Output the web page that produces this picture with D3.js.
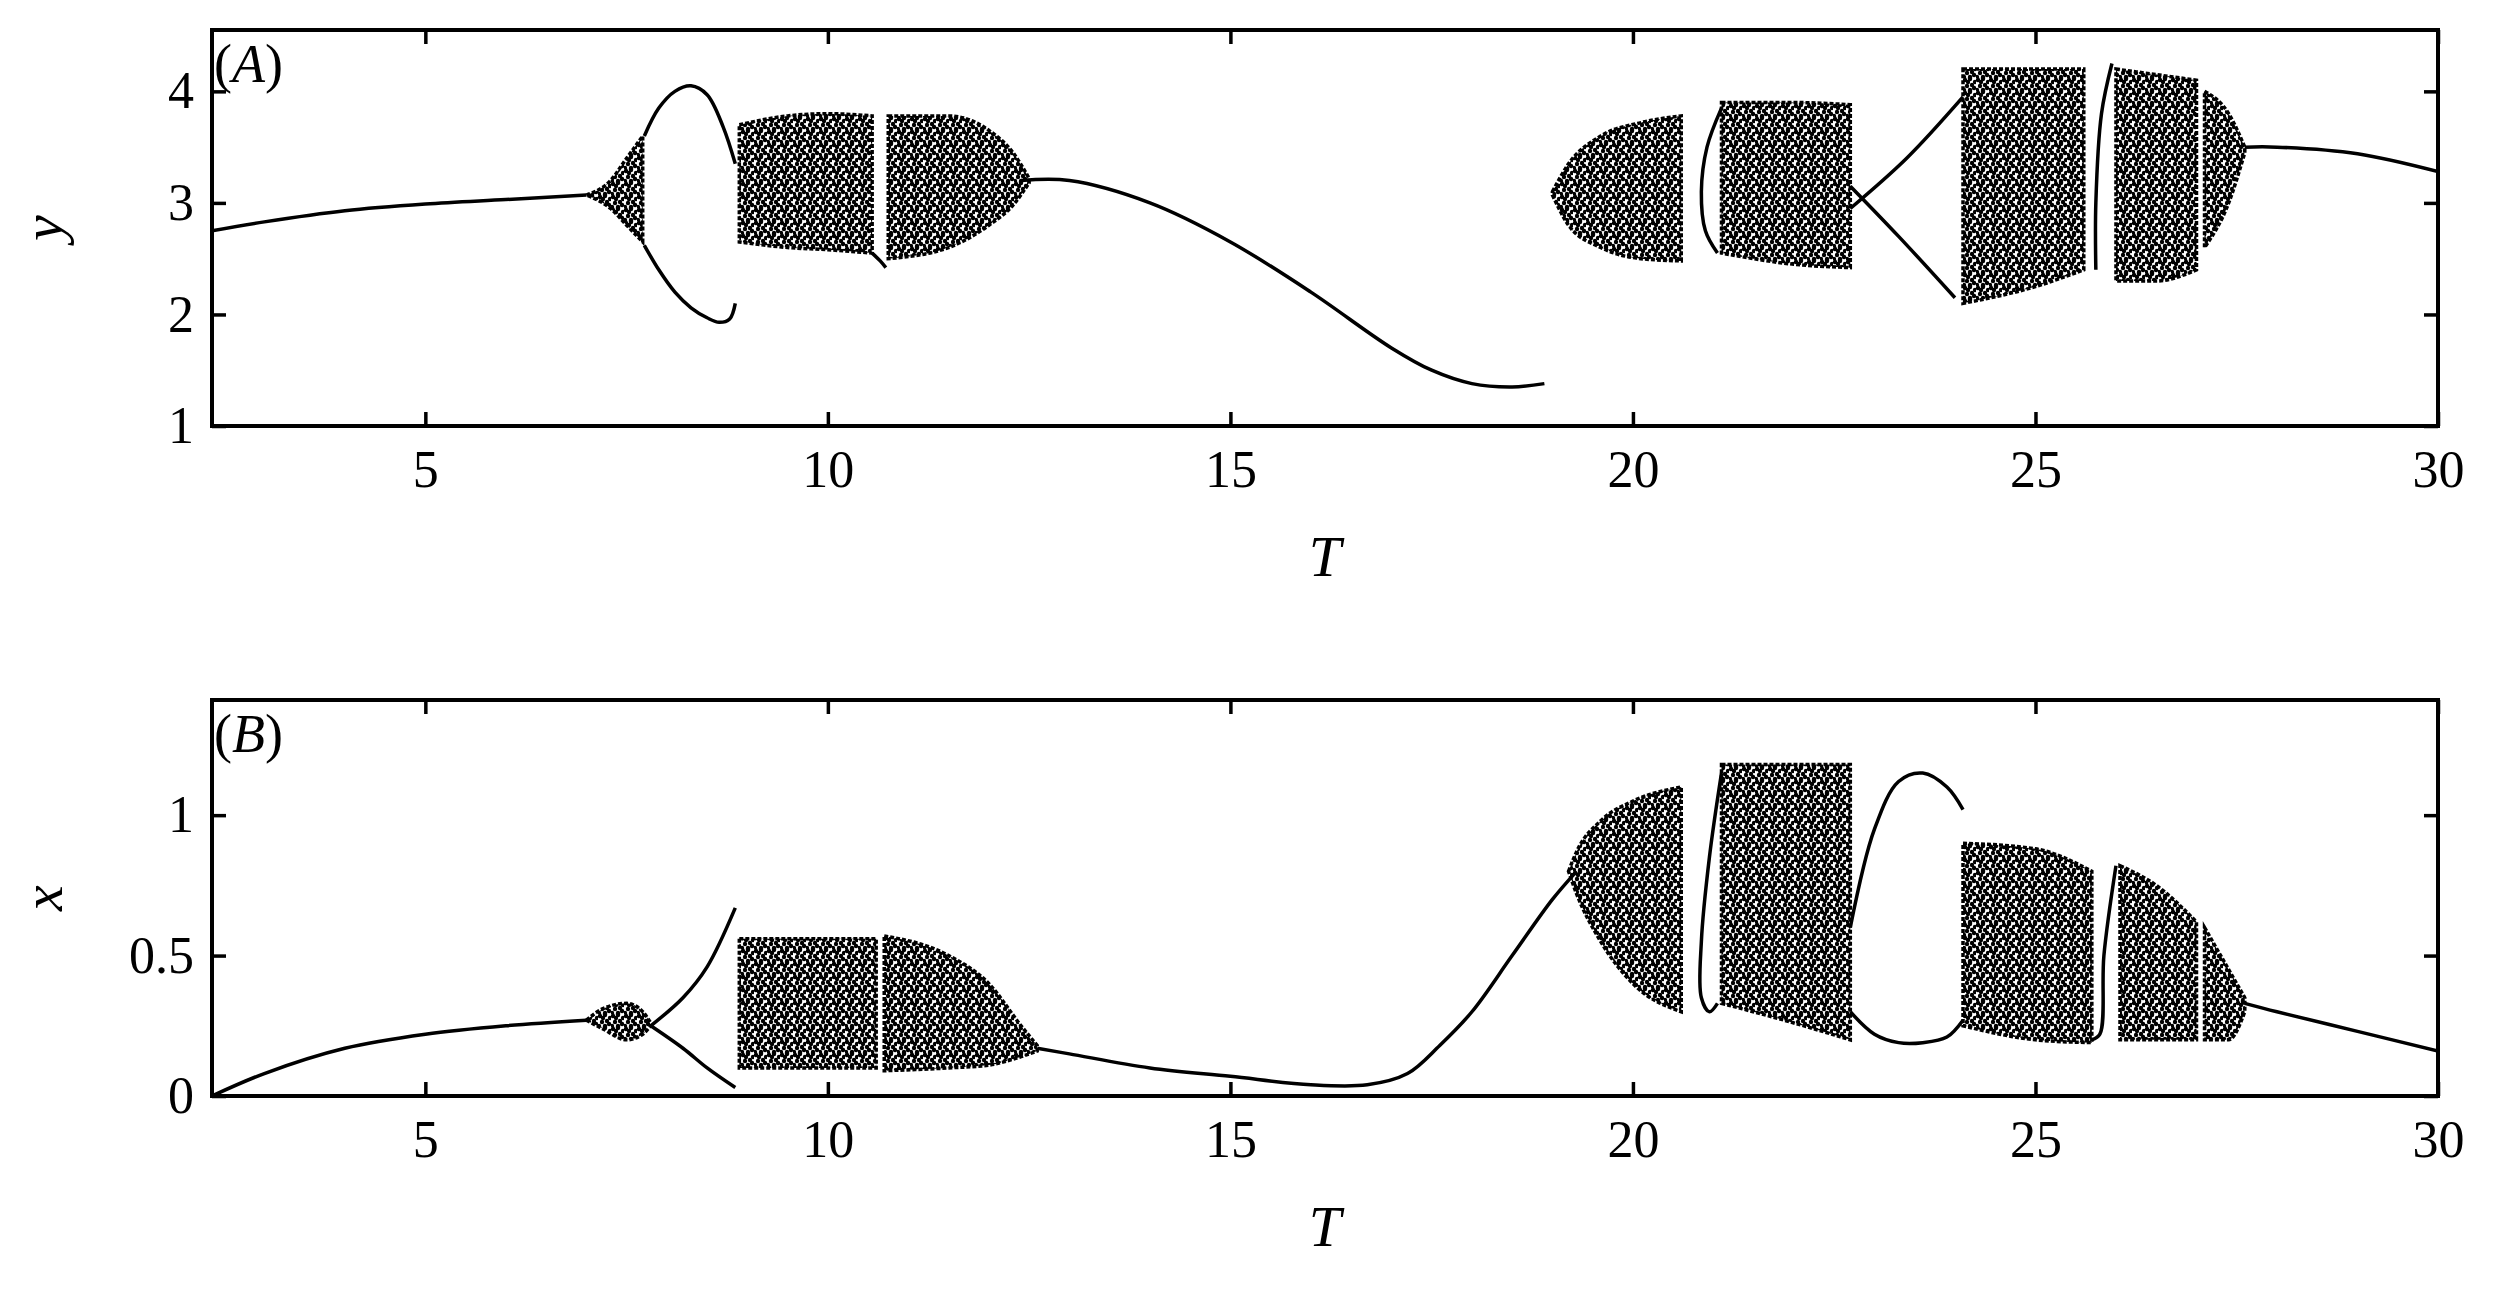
<!DOCTYPE html>
<html><head><meta charset="utf-8">
<script src="https://cdn.jsdelivr.net/npm/d3@7"></script>
<style>body{margin:0;background:#fff}svg{display:block}</style></head>
<body><svg id="c" width="2495" height="1299"></svg>
<script>
// ---- data ----
const xTicks=[5,10,15,20,25,30];
const yTicksA=[1,2,3,4];
const yTicksB=[0,0.5,1];
const yTickLabelsB=["0","0.5","1"];
// panel A curves [T,y]
const A_lines=[
 [[2.35,2.75],[3,2.83],[4,2.93],[5,2.99],[6,3.03],[7,3.07]],
 [[7.72,3.6],[7.9,3.85],[8.1,4.0],[8.3,4.05],[8.5,3.97],[8.7,3.68],[8.85,3.35]],
 [[7.72,2.62],[7.9,2.4],[8.1,2.2],[8.3,2.06],[8.5,1.97],[8.65,1.93],[8.78,1.96],[8.85,2.1]],
 [[10.55,2.55],[10.65,2.48],[10.72,2.42]],
 [[12.4,3.2],[13,3.2],[14,3.0],[15,2.65],[16,2.2],[17,1.7],[17.5,1.5],[18,1.38],[18.5,1.35],[18.9,1.38]],
 [[21.1,3.85],[20.92,3.5],[20.85,3.1],[20.9,2.75],[21.05,2.55]],
 [[22.7,3.15],[23.3,2.7],[24.0,2.15]],
 [[22.7,2.95],[23.4,3.4],[24.1,3.95]],
 [[25.75,2.4],[25.75,3.0],[25.82,3.8],[25.95,4.25]],
 [[27.6,3.5],[28,3.5],[29,3.44],[30,3.28]]
];
// panel A chaotic bands: [T, lower, upper]
const A_bands=[
 [[7.0,3.07,3.07],[7.3,2.95,3.2],[7.5,2.8,3.4],[7.7,2.65,3.6]],
 [[8.9,2.65,3.7],[9.5,2.6,3.78],[10.0,2.58,3.8],[10.55,2.55,3.78]],
 [[10.75,2.5,3.78],[11.5,2.6,3.78],[12.0,2.8,3.65],[12.3,2.98,3.45],[12.5,3.18,3.22]],
 [[19.0,3.07,3.1],[19.2,2.8,3.35],[19.6,2.6,3.6],[20.1,2.5,3.72],[20.6,2.48,3.78]],
 [[21.1,2.55,3.9],[22.0,2.45,3.9],[22.7,2.42,3.88]],
 [[24.1,2.1,4.2],[25.0,2.25,4.2],[25.6,2.4,4.2]],
 [[26.0,2.3,4.2],[26.5,2.3,4.15],[27.0,2.4,4.1]],
 [[27.1,2.6,4.0],[27.4,3.0,3.8],[27.6,3.45,3.5]]
];
// panel B curves [T,x]
const B_lines=[
 [[2.35,0],[3,0.08],[4,0.17],[5,0.22],[6,0.25],[7,0.27]],
 [[7.8,0.25],[8.2,0.17],[8.5,0.1],[8.85,0.03]],
 [[7.8,0.25],[8.2,0.35],[8.5,0.46],[8.85,0.67]],
 [[12.6,0.17],[13,0.15],[14,0.1],[15,0.07],[16,0.04],[16.7,0.04],[17.2,0.08],[17.6,0.18],[18,0.3],[18.5,0.5],[19,0.7],[19.3,0.8]],
 [[21.1,1.15],[20.95,0.85],[20.85,0.55],[20.85,0.35],[20.95,0.3],[21.05,0.33]],
 [[22.7,0.6],[23.0,0.95],[23.3,1.12],[23.6,1.15],[23.9,1.1],[24.1,1.02]],
 [[22.7,0.3],[23.0,0.22],[23.3,0.19],[23.6,0.19],[23.9,0.21],[24.1,0.27]],
 [[25.7,0.2],[25.8,0.22],[25.85,0.5],[26.0,0.82]],
 [[27.6,0.33],[28,0.3],[29,0.23],[30,0.16]]
];
const B_bands=[
 [[7.0,0.27,0.27],[7.2,0.24,0.31],[7.5,0.2,0.33],[7.7,0.22,0.3],[7.8,0.25,0.26]],
 [[8.9,0.1,0.56],[9.8,0.1,0.56],[10.6,0.1,0.56]],
 [[10.7,0.09,0.57],[11.5,0.1,0.5],[12.0,0.11,0.4],[12.4,0.14,0.25],[12.6,0.16,0.18]],
 [[19.2,0.8,0.8],[19.3,0.72,0.87],[19.6,0.55,0.98],[20.0,0.4,1.05],[20.6,0.3,1.1]],
 [[21.1,0.33,1.18],[22.0,0.26,1.18],[22.7,0.2,1.18]],
 [[24.1,0.25,0.9],[25.0,0.2,0.88],[25.7,0.19,0.8]],
 [[26.05,0.2,0.82],[26.5,0.2,0.75],[27.0,0.2,0.62]],
 [[27.1,0.2,0.6],[27.4,0.2,0.45],[27.6,0.3,0.35]]
];

// ---- layout ----
const svg=d3.select("#c");
const L=212,R=2438;
const x=d3.scaleLinear().domain([2.35,30]).range([L,R]);
const panels=[
 {top:30,bot:426,dom:[1,4.55],ticks:yTicksA,labels:yTicksA.map(String),lines:A_lines,bands:A_bands,ylab:"y",tag:"A"},
 {top:700,bot:1096,dom:[0,1.41],ticks:yTicksB,labels:yTickLabelsB,lines:B_lines,bands:B_bands,ylab:"x",tag:"B"}
];
const defs=svg.append("defs");
const pat=defs.append("pattern").attr("id","dots").attr("patternUnits","userSpaceOnUse").attr("width",13).attr("height",13);
[[2,2],[7,1],[12,4],[9,7],[4,8],[1,12],[7,12],[11,10],[5,4]].forEach(p=>pat.append("circle").attr("cx",p[0]).attr("cy",p[1]).attr("r",2.2).attr("fill","#000"));
const font="Liberation Serif, Times New Roman, serif";
panels.forEach(p=>{
 const y=d3.scaleLinear().domain(p.dom).range([p.bot,p.top]);
 const g=svg.append("g");
 const clip="clip"+p.tag;
 defs.append("clipPath").attr("id",clip).append("rect").attr("x",L).attr("y",p.top).attr("width",R-L).attr("height",p.bot-p.top);
 const area=d3.area().x(d=>x(d[0])).y0(d=>y(d[1])).y1(d=>y(d[2])).curve(d3.curveMonotoneX);
 const pg=g.append("g").attr("clip-path",`url(#${clip})`);
 p.bands.forEach(b=>{
  pg.append("path").attr("d",area(b)).attr("fill","url(#dots)").attr("stroke","#000").attr("stroke-width",3.5).attr("stroke-dasharray","4,2");
 });
 const line=d3.line().x(d=>x(d[0])).y(d=>y(d[1])).curve(d3.curveCatmullRom);
 p.lines.forEach(l=>pg.append("path").attr("d",line(l)).attr("fill","none").attr("stroke","#000").attr("stroke-width",3.5));
 g.append("rect").attr("x",L).attr("y",p.top).attr("width",R-L).attr("height",p.bot-p.top).attr("fill","none").attr("stroke","#000").attr("stroke-width",4);
 const xb=g.append("g").attr("transform",`translate(0,${p.bot})`).call(d3.axisBottom(x).tickValues(xTicks).tickSize(-14).tickPadding(24).tickFormat(d3.format("d")));
 const xt=g.append("g").attr("transform",`translate(0,${p.top})`).call(d3.axisTop(x).tickValues(xTicks).tickSize(-14).tickFormat(""));
 const yl=g.append("g").attr("transform",`translate(${L},0)`).call(d3.axisLeft(y).tickValues(p.ticks).tickSize(-14).tickPadding(18).tickFormat((d,i)=>p.labels[i]));
 const yr=g.append("g").attr("transform",`translate(${R},0)`).call(d3.axisRight(y).tickValues(p.ticks).tickSize(-14).tickFormat(""));
 [xb,xt,yl,yr].forEach(a=>{a.select(".domain").remove();a.selectAll("line").attr("stroke-width",3.5);a.selectAll("text").attr("font-family",font).attr("font-size",52).attr("fill","#000");});
 g.append("text").attr("x",(L+R)/2).attr("y",p.bot+150).attr("text-anchor","middle").attr("font-family",font).attr("font-style","italic").attr("font-size",58).text("T");
 g.append("text").attr("transform",`translate(${L-150},${(p.top+p.bot)/2})rotate(-90)`).attr("text-anchor","middle").attr("font-family",font).attr("font-style","italic").attr("font-size",58).text(p.ylab);
 const t=g.append("text").attr("x",L+2).attr("y",p.top+52).attr("font-family",font).attr("font-size",54);
 t.append("tspan").text("(");t.append("tspan").attr("font-style","italic").text(p.tag);t.append("tspan").text(")");
});
</script></body></html>
